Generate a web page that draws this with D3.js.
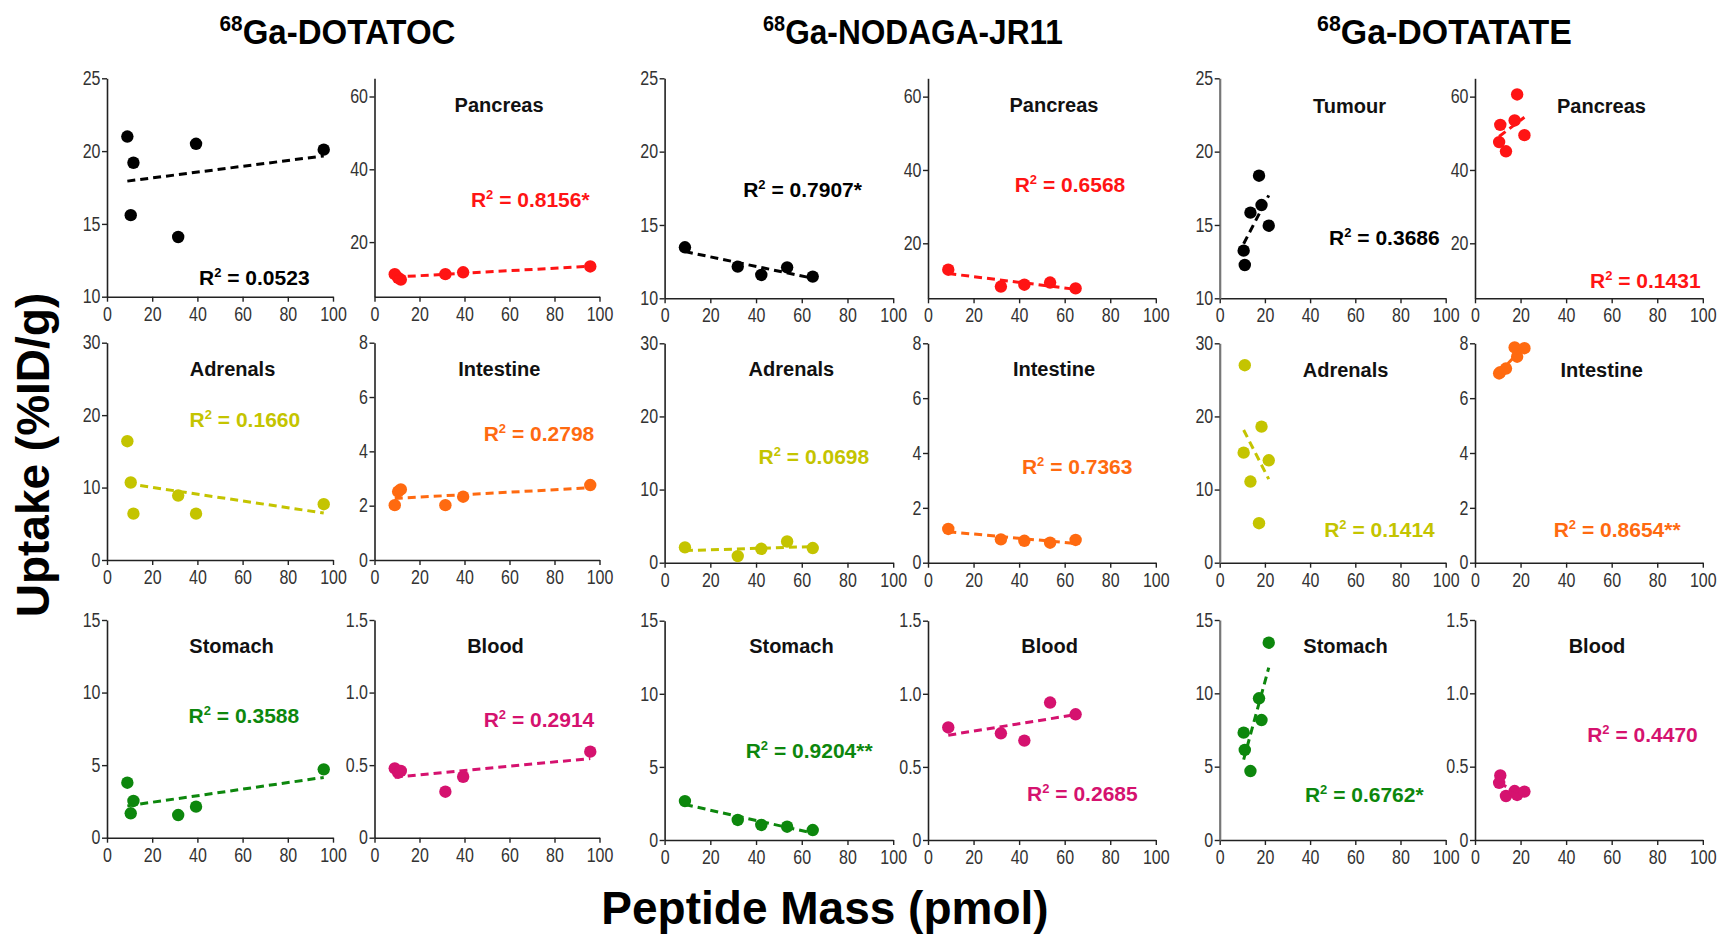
<!DOCTYPE html>
<html><head><meta charset="utf-8">
<script src="https://cdn.jsdelivr.net/npm/d3@7"></script>
<style>
body{margin:0;background:#fff;}
svg{display:block;font-family:"Liberation Sans",Arial,sans-serif;}
</style>
</head><body>
<svg id="chart" width="1721" height="934"></svg>
<script>
// ---------------- DATA ----------------
const compounds = ["DOTATOC", "NODAGA-JR11", "DOTATATE"];
const organs = ["Tumour", "Pancreas", "Adrenals", "Intestine", "Stomach", "Blood"];

// peptide mass (pmol) per compound
const massDOTATOC  = [9.0, 10.5, 11.7, 31.5, 39.4, 95.9];
const massNODAGA   = [8.9, 32.0, 42.3, 53.6, 64.8];
const massDOTATATE = [10.6, 11.1, 13.6, 17.4, 18.5, 21.7];

// uptake (%ID/g)
const dotatocTumour    = [21.0, 15.6, 19.2, 14.1, 20.5, 20.1];
const dotatocPancreas  = [11.2, 10.2, 9.7, 11.2, 11.7, 13.3];
const dotatocAdrenals  = [16.4, 10.7, 6.4, 8.9, 6.4, 7.7];
const dotatocIntestine = [2.02, 2.52, 2.60, 2.02, 2.33, 2.76];
const dotatocStomach   = [3.79, 1.68, 2.53, 1.56, 2.14, 4.71];
const dotatocBlood     = [0.478, 0.448, 0.46, 0.317, 0.42, 0.593];

const nodagaTumour    = [13.48, 12.16, 11.59, 12.11, 11.48];
const nodagaPancreas  = [12.8, 8.2, 8.7, 9.3, 7.7];
const nodagaAdrenals  = [2.1, 0.9, 1.9, 2.9, 2.0];
const nodagaIntestine = [1.23, 0.85, 0.80, 0.73, 0.83];
const nodagaStomach   = [2.66, 1.37, 1.03, 0.91, 0.68];
const nodagaBlood     = [0.77, 0.73, 0.68, 0.94, 0.86];

const dotatateTumour    = [13.25, 12.27, 15.84, 18.36, 16.36, 14.95];
const dotatatePancreas  = [47.6, 52.3, 45.1, 53.5, 60.6, 49.5];
const dotatateAdrenals  = [15.05, 27.0, 11.1, 5.4, 18.6, 14.0];
const dotatateIntestine = [6.90, 6.95, 7.08, 7.85, 7.51, 7.82];
const dotatateStomach   = [7.32, 6.14, 4.70, 9.66, 8.18, 13.45];
const dotatateBlood     = [0.39, 0.44, 0.30, 0.334, 0.307, 0.33];

// R² annotations
const r2DOTATOC  = ["0.0523", "0.8156*", "0.1660", "0.2798", "0.3588", "0.2914"];
const r2NODAGA   = ["0.7907*", "0.6568", "0.0698", "0.7363", "0.9204**", "0.2685"];
const r2DOTATATE = ["0.3686", "0.1431", "0.1414", "0.8654**", "0.6762*", "0.4470"];

// axes
const xTicks = [0, 20, 40, 60, 80, 100];
const yDomainTumour = [10, 25],  yTicksTumour = [10, 15, 20, 25];
const yDomainPancreas = [5, 65], yTicksPancreas = [20, 40, 60];
const yDomainAdrenals = [0, 30], yTicksAdrenals = [0, 10, 20, 30];
const yDomainIntestine = [0, 8], yTicksIntestine = [0, 2, 4, 6, 8];
const yDomainStomach = [0, 15],  yTicksStomach = [0, 5, 10, 15];
const yDomainBlood = [0, 1.5],   yTicksBlood = [0, 0.5, 1.0, 1.5];

// ---------------- STYLE / LAYOUT ----------------
const organColor = ["#000000", "#ff1414", "#c4c400", "#ff6a10", "#0d870d", "#d5126f"];
const colX = [107, 374.5, 664.6, 928, 1219.7, 1475];
const colW = [226, 225, 228.6, 227.8, 226, 227.8];
const rowTop = [[78.3, 342.7, 620], [78.3, 343.3, 620.7], [78.3, 343.3, 620]];
const rowBot = [[296.7, 560, 837.7], [298.3, 562.7, 840], [298.3, 562.7, 840]];
const titleOff = [
  [null, [124.6, 33.4], [125.5, 33.3], [124.8, 33.3], [124.6, 33.3], [121, 33.3]],
  [null, [126, 33.4], [126.8, 32.7], [126, 32.7], [126.8, 32.6], [121.7, 32.6]],
  [[129.9, 34.4], [126.5, 34.4], [125.9, 33.4], [126.7, 33.4], [125.9, 33.3], [122, 33.3]]
];
const r2Off = [
  [[92, 206.7], [96.4, 128.4], [82.6, 84], [109.2, 98], [81.6, 103.3], [109.2, 106.7]],
  [[78.6, 118.4], [86.7, 113.4], [94, 120.7], [93.9, 130.7], [81.1, 137.6], [99.1, 180]],
  [[109.4, 166.7], [115, 210], [104.5, 193.4], [78.7, 193.4], [85.2, 181.7], [112.2, 121.7]]
];
const groupTitleX = [337.5, 913, 1444.5];
const groupTitleW = [236, 300, 255];

// ---------------- BUILD ----------------
const masses = [massDOTATOC, massNODAGA, massDOTATATE];
const values = [
  [dotatocTumour, dotatocPancreas, dotatocAdrenals, dotatocIntestine, dotatocStomach, dotatocBlood],
  [nodagaTumour, nodagaPancreas, nodagaAdrenals, nodagaIntestine, nodagaStomach, nodagaBlood],
  [dotatateTumour, dotatatePancreas, dotatateAdrenals, dotatateIntestine, dotatateStomach, dotatateBlood]
];
const r2s = [r2DOTATOC, r2NODAGA, r2DOTATATE];
const yDomains = [yDomainTumour, yDomainPancreas, yDomainAdrenals, yDomainIntestine, yDomainStomach, yDomainBlood];
const yTicks = [yTicksTumour, yTicksPancreas, yTicksAdrenals, yTicksIntestine, yTicksStomach, yTicksBlood];
const showTitle = [[false, true, true, true, true, true], [false, true, true, true, true, true], [true, true, true, true, true, true]];

const svg = d3.select("#chart");

function fit(xs, ys) {
  const mx = d3.mean(xs), my = d3.mean(ys);
  let sxy = 0, sxx = 0;
  xs.forEach((x, i) => { sxy += (x - mx) * (ys[i] - my); sxx += (x - mx) * (x - mx); });
  const b = sxy / sxx;
  return x => my + b * (x - mx);
}

// tick labels: slightly tall glyphs like the original figure
function styleTickText(sel) {
  sel.attr("font-size", 16).attr("fill", "#333")
    .attr("font-family", "'Liberation Sans',Arial,sans-serif")
    .each(function () {
      const s = d3.select(this);
      const tx = +s.attr("x") || 0, ty = +s.attr("y") || 0;
      s.attr("x", 0).attr("y", 0).attr("transform", `translate(${tx},${ty}) scale(1,1.22)`);
    });
}

compounds.forEach((comp, g) => {
  // group title (condensed)
  const gg = svg.append("g");
  const gt = gg.append("text").attr("x", 0).attr("y", 0)
    .attr("text-anchor", "middle").attr("font-weight", "bold").attr("font-size", 35).attr("fill", "#000");
  gt.append("tspan").attr("font-size", 22).attr("dy", -13).text("68");
  gt.append("tspan").attr("dy", 13).text("Ga-" + comp);
  const bw = gt.node().getBBox().width;
  gg.attr("transform", `translate(${groupTitleX[g]},44) scale(${groupTitleW[g] / bw},1)`);

  organs.forEach((org, k) => {
    const row = Math.floor(k / 2), col = k % 2;
    const left = colX[g * 2 + col], w = colW[g * 2 + col];
    const top = rowTop[g][row], bot = rowBot[g][row];
    const color = organColor[k];
    const xs = masses[g], ys = values[g][k];

    const x = d3.scaleLinear().domain([0, 100]).range([left, left + w]);
    const y = d3.scaleLinear().domain(yDomains[k]).range([bot, top]);

    const fmt = k === 5 ? (d => d === 0 ? "0" : d3.format(".1f")(d)) : d3.format("d");

    const ax = svg.append("g").attr("transform", `translate(0,${bot})`)
      .call(d3.axisBottom(x).tickValues(xTicks).tickSize(5).tickSizeOuter(0).tickPadding(5));
    const ay = svg.append("g").attr("transform", `translate(${left},0)`)
      .call(d3.axisLeft(y).tickValues(yTicks[k]).tickFormat(fmt).tickSize(5).tickSizeOuter(0).tickPadding(1.5));
    const axisCol = (g === 2 && col === 0) ? "#777" : "#222";
    [ax, ay].forEach(a => {
      a.select(".domain").attr("stroke", "#222").attr("stroke-width", 1.6);
      a.selectAll(".tick line").attr("stroke", "#222").attr("stroke-width", 1.4);
      styleTickText(a.selectAll(".tick text"));
    });
    ay.select(".domain").attr("stroke", axisCol).attr("stroke-width", g === 2 && col === 0 ? 2.2 : 1.6);

    // points
    svg.append("g").selectAll("circle").data(ys).join("circle")
      .attr("cx", (d, i) => x(xs[i])).attr("cy", d => y(d)).attr("r", 6.2).attr("fill", color);

    // regression line
    const f = fit(xs, ys);
    const x0 = d3.min(xs), x1 = d3.max(xs);
    svg.append("line")
      .attr("x1", x(x0)).attr("y1", y(f(x0))).attr("x2", x(x1)).attr("y2", y(f(x1)))
      .attr("stroke", color).attr("stroke-width", 3).attr("stroke-dasharray", "8,5");

    // organ title
    if (showTitle[g][k]) {
      const to = titleOff[g][k];
      svg.append("text").attr("x", left + to[0]).attr("y", top + to[1])
        .attr("text-anchor", "middle").attr("font-weight", "bold").attr("font-size", 20)
        .attr("fill", "#111").text(org);
    }

    // R² label
    const ro = r2Off[g][k];
    const t = svg.append("text").attr("x", left + ro[0]).attr("y", top + ro[1])
      .attr("font-weight", "bold").attr("font-size", 21).attr("fill", color);
    t.append("tspan").text("R");
    t.append("tspan").attr("font-size", 13).attr("dy", -8).text("2");
    t.append("tspan").attr("dy", 8).text(" = " + r2s[g][k]);
  });
});

// axis titles
svg.append("text").attr("transform", "translate(49,455) rotate(-90)")
  .attr("text-anchor", "middle").attr("font-weight", "bold").attr("font-size", 46).attr("fill", "#000")
  .text("Uptake (%ID/g)");
svg.append("text").attr("x", 825).attr("y", 924)
  .attr("text-anchor", "middle").attr("font-weight", "bold").attr("font-size", 46).attr("fill", "#000")
  .text("Peptide Mass (pmol)");
</script>
</body></html>
